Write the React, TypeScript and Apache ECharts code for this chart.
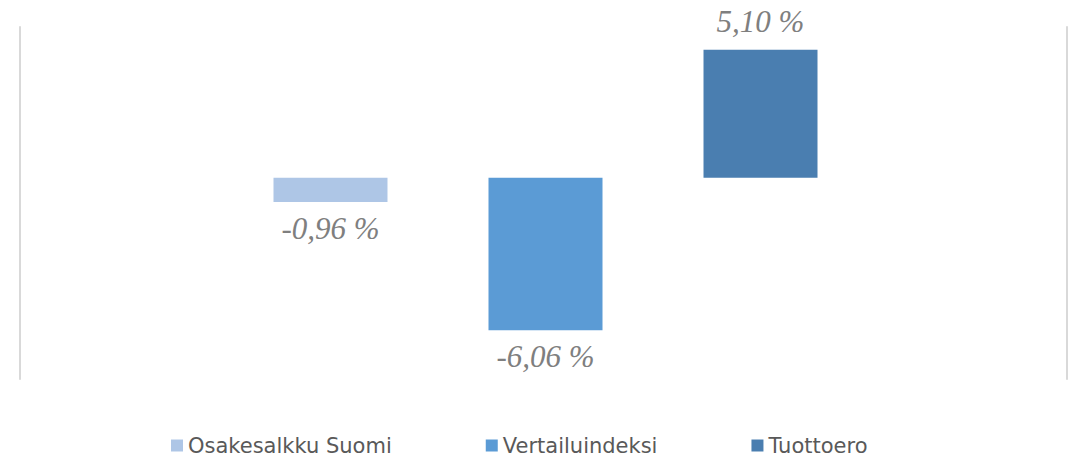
import React, { useEffect, useRef } from "react";
import * as echarts from "echarts";

const categories = [""];
const seriesNames = ["Osakesalkku Suomi", "Vertailuindeksi", "Tuottoero"];
const seriesValues = [-0.96, -6.06, 5.1];
const seriesColors = ["#aec6e6", "#5b9bd5", "#4a7eb0"];

export default function App() {
  const ref = useRef<HTMLDivElement>(null);
  useEffect(() => {
    if (!ref.current) return;
    const chart = echarts.init(ref.current, undefined, { renderer: "svg" });
    const fmt = (v: number) => v.toFixed(2).replace(".", ",") + " %";
    chart.setOption({
      animation: false,
      backgroundColor: "#ffffff",
      grid: { left: 23, right: 0, top: 27, bottom: 79 },
      legend: {
        left: 166,
        top: 430,
        itemWidth: 12,
        itemHeight: 12,
        itemGap: 94,
        icon: "rect",
        textStyle: { color: "#595959", fontSize: 21, fontFamily: "DejaVu Sans" },
        data: seriesNames,
      },
      xAxis: {
        type: "category",
        data: categories,
        show: false,
      },
      yAxis: [
        {
          type: "value",
          min: -8,
          max: 6,
          position: "left",
          offset: 3,
          axisLine: { show: true, lineStyle: { color: "#d9d9d9", width: 2 } },
          axisLabel: { show: false },
          axisTick: { show: false },
          splitLine: { show: false },
        },
        {
          type: "value",
          min: -8,
          max: 6,
          position: "right",
          offset: -1,
          axisLine: { show: true, lineStyle: { color: "#d9d9d9", width: 2 } },
          axisLabel: { show: false },
          axisTick: { show: false },
          splitLine: { show: false },
        },
      ],
      series: seriesNames.map((name, i) => ({
        name,
        type: "bar",
        yAxisIndex: 0,
        barWidth: 114,
        barGap: "88.6%",
        itemStyle: { color: seriesColors[i] },
        data: [seriesValues[i]],
        label: {
          show: true,
          position: seriesValues[i] >= 0 ? "top" : "bottom",
          distance: seriesValues[i] >= 0 ? 13 : 11,
          formatter: (p: any) => fmt(p.value),
          color: "#7f7f7f",
          fontSize: 31,
          fontStyle: "italic",
          fontFamily: "Liberation Serif",
        },
      })),
    });
    return () => chart.dispose();
  }, []);
  return <div ref={ref} style={{ width: 1068, height: 458, position: "absolute", left: 0, top: 0 }} />;
}
